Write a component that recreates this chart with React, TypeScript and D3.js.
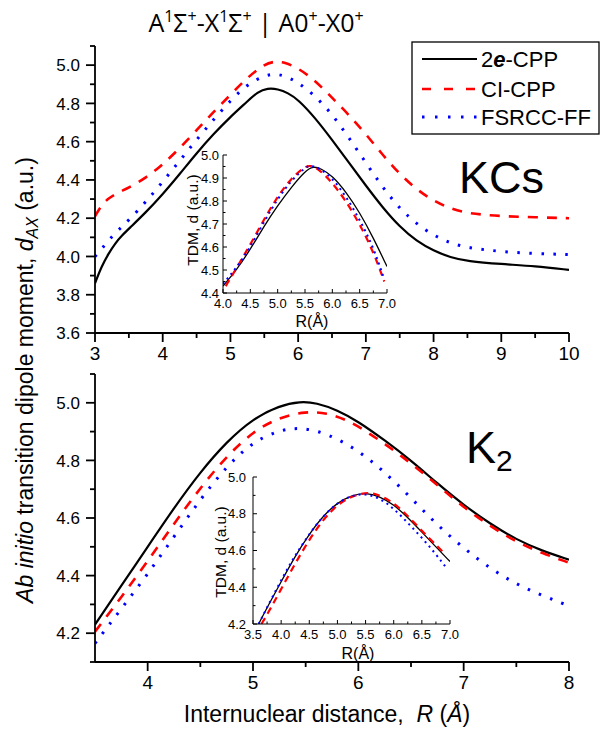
import React from 'react';
import * as d3 from 'd3';

// ---------- DATA ----------
const legendLabels = ['2e-CPP', 'CI-CPP', 'FSRCC-FF'];

// KCs main panel
const kcsBlackR = [3.0, 3.1, 3.2, 3.3, 3.4, 3.5, 3.75, 4.0, 4.25, 4.5, 4.75, 5.0, 5.25, 5.4, 5.55, 5.7, 5.85, 6.0, 6.25, 6.5, 6.75, 7.0, 7.25, 7.5, 7.75, 8.0, 8.25, 8.5, 9.0, 9.5, 10.0];
const kcsBlackD = [3.86, 3.95, 4.015, 4.07, 4.11, 4.145, 4.23, 4.325, 4.43, 4.54, 4.64, 4.73, 4.81, 4.86, 4.88, 4.875, 4.855, 4.82, 4.725, 4.61, 4.49, 4.37, 4.255, 4.155, 4.08, 4.03, 3.995, 3.975, 3.96, 3.95, 3.93];
const kcsRedR = [3.0, 3.1, 3.2, 3.35, 3.5, 3.75, 4.0, 4.25, 4.5, 4.75, 5.0, 5.25, 5.5, 5.65, 5.8, 6.0, 6.25, 6.5, 6.75, 7.0, 7.25, 7.5, 7.75, 8.0, 8.25, 8.5, 9.0, 9.5, 10.0];
const kcsRedD = [4.21, 4.27, 4.305, 4.335, 4.36, 4.41, 4.48, 4.565, 4.66, 4.755, 4.845, 4.935, 5.005, 5.02, 5.015, 4.985, 4.92, 4.83, 4.74, 4.64, 4.53, 4.43, 4.35, 4.29, 4.25, 4.225, 4.21, 4.205, 4.2];
const kcsBlueR = [3.0, 3.1, 3.2, 3.35, 3.5, 3.75, 4.0, 4.25, 4.5, 4.75, 5.0, 5.25, 5.5, 5.65, 5.8, 6.0, 6.25, 6.5, 6.75, 7.0, 7.25, 7.5, 7.75, 8.0, 8.25, 8.5, 9.0, 9.5, 10.0];
const kcsBlueD = [4.0, 4.04, 4.085, 4.14, 4.19, 4.285, 4.39, 4.5, 4.61, 4.715, 4.815, 4.9, 4.945, 4.955, 4.945, 4.91, 4.84, 4.745, 4.62, 4.49, 4.36, 4.25, 4.17, 4.11, 4.07, 4.045, 4.025, 4.015, 4.01];

// KCs inset
const kcsInBlackR = [4.0, 4.25, 4.5, 4.75, 5.0, 5.25, 5.5, 5.65, 5.8, 6.0, 6.25, 6.5, 6.75, 7.0];
const kcsInBlackD = [4.43, 4.5, 4.59, 4.69, 4.78, 4.86, 4.93, 4.952, 4.94, 4.91, 4.84, 4.75, 4.64, 4.515];
const kcsInRedR = [4.05, 4.25, 4.5, 4.75, 5.0, 5.25, 5.5, 5.6, 5.75, 6.0, 6.25, 6.5, 6.75, 6.95];
const kcsInRedD = [4.43, 4.51, 4.61, 4.72, 4.82, 4.9, 4.95, 4.955, 4.94, 4.88, 4.8, 4.7, 4.58, 4.45];
const kcsInBlueR = [4.0, 4.25, 4.5, 4.75, 5.0, 5.25, 5.5, 5.6, 5.75, 6.0, 6.25, 6.5, 6.75, 6.95];
const kcsInBlueD = [4.44, 4.51, 4.6, 4.71, 4.81, 4.89, 4.945, 4.955, 4.945, 4.9, 4.82, 4.72, 4.6, 4.46];

// K2 main panel
const k2BlackR = [3.5, 3.75, 4.0, 4.25, 4.5, 4.75, 5.0, 5.25, 5.45, 5.6, 5.8, 6.0, 6.25, 6.5, 6.75, 7.0, 7.25, 7.5, 7.75, 8.0];
const k2BlackD = [4.23, 4.365, 4.5, 4.635, 4.76, 4.865, 4.945, 4.99, 5.005, 5.0, 4.975, 4.935, 4.87, 4.8, 4.72, 4.645, 4.58, 4.525, 4.485, 4.455];
const k2RedR = [3.5, 3.75, 4.0, 4.25, 4.5, 4.75, 5.0, 5.25, 5.5, 5.7, 5.9, 6.1, 6.3, 6.5, 6.75, 7.0, 7.25, 7.5, 7.75, 8.0];
const k2RedD = [4.205, 4.325, 4.45, 4.58, 4.705, 4.815, 4.9, 4.95, 4.97, 4.965, 4.94, 4.895, 4.845, 4.79, 4.715, 4.637, 4.572, 4.517, 4.477, 4.445];
const k2BlueR = [3.5, 3.75, 4.0, 4.25, 4.5, 4.75, 5.0, 5.25, 5.45, 5.7, 6.0, 6.25, 6.5, 6.75, 7.0, 7.25, 7.5, 7.75, 8.0];
const k2BlueD = [4.165, 4.285, 4.405, 4.535, 4.665, 4.78, 4.865, 4.905, 4.915, 4.895, 4.835, 4.76, 4.67, 4.575, 4.495, 4.425, 4.37, 4.33, 4.295];

// K2 inset
const k2InBlackR = [3.6, 3.75, 4.0, 4.25, 4.5, 4.75, 5.0, 5.25, 5.5, 5.75, 6.0, 6.25, 6.5, 6.75, 7.0];
const k2InBlackD = [4.2, 4.29, 4.43, 4.57, 4.69, 4.79, 4.86, 4.9, 4.915, 4.895, 4.85, 4.78, 4.7, 4.62, 4.54];
const k2InRedR = [3.65, 3.75, 4.0, 4.25, 4.5, 4.75, 5.0, 5.25, 5.5, 5.65, 5.9, 6.15, 6.4, 6.65, 6.9];
const k2InRedD = [4.2, 4.25, 4.39, 4.53, 4.66, 4.77, 4.85, 4.895, 4.915, 4.912, 4.88, 4.82, 4.74, 4.66, 4.585];
const k2InBlueR = [3.6, 3.75, 4.0, 4.25, 4.5, 4.75, 5.0, 5.25, 5.5, 5.75, 6.0, 6.25, 6.5, 6.75, 6.95];
const k2InBlueD = [4.2, 4.29, 4.44, 4.575, 4.69, 4.79, 4.86, 4.9, 4.91, 4.885, 4.83, 4.75, 4.67, 4.58, 4.5];

// ticks
const kcsXTicks = [3, 4, 5, 6, 7, 8, 9, 10];
const kcsYTicks = [3.6, 3.8, 4.0, 4.2, 4.4, 4.6, 4.8, 5.0];
const k2XTicks = [4, 5, 6, 7, 8];
const k2YTicks = [4.2, 4.4, 4.6, 4.8, 5.0];
const kcsInXTicks = [4.0, 4.5, 5.0, 5.5, 6.0, 6.5, 7.0];
const kcsInYTicks = [4.4, 4.5, 4.6, 4.7, 4.8, 4.9, 5.0];
const k2InXTicks = [3.5, 4.0, 4.5, 5.0, 5.5, 6.0, 6.5, 7.0];
const k2InYTicks = [4.2, 4.4, 4.6, 4.8, 5.0];

// ---------- LAYOUT ----------
const W = 611;
const H = 733;
const FONT = 'Liberation Sans, Arial, sans-serif';

const zip = (r: number[], d: number[]) => r.map((x, i) => [x, d[i]] as [number, number]);

const mainStyles = [
  { stroke: '#000000', width: 2.2, dash: undefined as string | undefined },
  { stroke: '#ff0000', width: 2.6, dash: '10,9' },
  { stroke: '#0000ff', width: 3, dash: '2.5,9.5' },
];
const insetStyles = [
  { stroke: '#000000', width: 1.3, dash: undefined as string | undefined },
  { stroke: '#ff0000', width: 2.2, dash: '7,5' },
  { stroke: '#0000ff', width: 2, dash: '2,4' },
];

function range(a: number, b: number, step: number) {
  const out: number[] = [];
  for (let v = a; v <= b + 1e-9; v += step) out.push(Math.round(v * 1000) / 1000);
  return out;
}

type Scale = d3.ScaleLinear<number, number>;

function Curves({ xs, ys, data, styles, id }: { xs: Scale; ys: Scale; data: [number, number][][]; styles: typeof mainStyles; id: string }) {
  const line = d3
    .line<[number, number]>()
    .x((d) => xs(d[0]))
    .y((d) => ys(d[1]))
    .curve(d3.curveBasis);
  const [x0, x1] = xs.range();
  const [y0, y1] = ys.range();
  return (
    <g>
      <clipPath id={id}>
        <rect x={x0} y={Math.min(y0, y1)} width={x1 - x0} height={Math.abs(y0 - y1)} />
      </clipPath>
      <g clipPath={`url(#${id})`}>
        {data.map((d, i) => (
          <path
            key={i}
            d={line(d) || ''}
            fill="none"
            stroke={styles[i].stroke}
            strokeWidth={styles[i].width}
            strokeDasharray={styles[i].dash}
          />
        ))}
      </g>
    </g>
  );
}

function Axes({
  xs, ys, xMajor, xMinor, yMajor, yMinor, xFmt, yFmt, xFont, yFont, dir, majLen, minLen, sw, xLabOff, yLabGap,
}: {
  xs: Scale; ys: Scale; xMajor: number[]; xMinor: number[]; yMajor: number[]; yMinor: number[];
  xFmt: (v: number) => string; yFmt: (v: number) => string; xFont: number; yFont: number;
  dir: number; majLen: number; minLen: number; sw: number; xLabOff: number; yLabGap: number;
}) {
  const [x0, x1] = xs.range();
  const [yb, yt] = ys.range();
  return (
    <g>
      <line x1={x0} x2={x1} y1={yb} y2={yb} stroke="#000" strokeWidth={sw} />
      <line x1={x0} x2={x0} y1={yb} y2={yt} stroke="#000" strokeWidth={sw} />
      {xMinor.map((v) => (
        <line key={'xm' + v} x1={xs(v)} x2={xs(v)} y1={yb} y2={yb + dir * minLen} stroke="#000" strokeWidth={sw} />
      ))}
      {xMajor.map((v) => (
        <g key={'xM' + v}>
          <line x1={xs(v)} x2={xs(v)} y1={yb} y2={yb + dir * majLen} stroke="#000" strokeWidth={sw} />
          <text x={xs(v)} y={yb + xLabOff} textAnchor="middle" fontFamily={FONT} fontSize={xFont} fill="#000">
            {xFmt(v)}
          </text>
        </g>
      ))}
      {yMinor.map((v) => (
        <line key={'ym' + v} x1={x0} x2={x0 - dir * minLen} y1={ys(v)} y2={ys(v)} stroke="#000" strokeWidth={sw} />
      ))}
      {yMajor.map((v) => (
        <g key={'yM' + v}>
          <line x1={x0} x2={x0 - dir * majLen} y1={ys(v)} y2={ys(v)} stroke="#000" strokeWidth={sw} />
          <text x={x0 - yLabGap} y={ys(v)} dy="0.36em" textAnchor="end" fontFamily={FONT} fontSize={yFont} fill="#000">
            {yFmt(v)}
          </text>
        </g>
      ))}
    </g>
  );
}

export default function App() {
  const f1 = d3.format('.1f');
  const f0 = d3.format('d');

  // KCs main
  const xT = d3.scaleLinear().domain([3, 10]).range([95, 569]);
  const yT = d3.scaleLinear().domain([3.6, 5.1]).range([333, 46]);
  // K2 main
  const xB = d3.scaleLinear().domain([3.5, 8]).range([95, 569]);
  const yB = d3.scaleLinear().domain([4.1, 5.1]).range([662, 374]);
  // KCs inset
  const xTi = d3.scaleLinear().domain([4, 7]).range([223, 387]);
  const yTi = d3.scaleLinear().domain([4.4, 5.0]).range([293, 155]);
  // K2 inset
  const xBi = d3.scaleLinear().domain([3.5, 7]).range([253, 450]);
  const yBi = d3.scaleLinear().domain([4.2, 5.0]).range([624, 477]);

  const legendY = [59, 89, 117];

  return (
    <svg width={W} height={H} style={{ position: 'absolute', left: 0, top: 0, background: '#fff' }}>
      <rect x={0} y={0} width={W} height={H} fill="#fff" />

      {/* Title */}
      <text x={256} y={32} textAnchor="middle" fontFamily="Open Sans, sans-serif" fontSize={25} fill="#000">
        A<tspan dy={-10} fontSize={16}>1</tspan>
        <tspan dy={10}>Σ</tspan>
        <tspan dy={-10} fontSize={16}>+</tspan>
        <tspan dy={10}>-X</tspan>
        <tspan dy={-10} fontSize={16}>1</tspan>
        <tspan dy={10}>Σ</tspan>
        <tspan dy={-10} fontSize={16}>+</tspan>
        <tspan dy={10}> | A0</tspan>
        <tspan dy={-10} fontSize={16}>+</tspan>
        <tspan dy={10}>-X0</tspan>
        <tspan dy={-10} fontSize={16}>+</tspan>
      </text>

      {/* KCs panel */}
      <Curves
        id="clipT"
        xs={xT}
        ys={yT}
        data={[zip(kcsBlackR, kcsBlackD), zip(kcsRedR, kcsRedD), zip(kcsBlueR, kcsBlueD)]}
        styles={mainStyles}
      />
      <Axes
        xs={xT} ys={yT}
        xMajor={kcsXTicks} xMinor={range(3.5, 9.5, 1)}
        yMajor={kcsYTicks} yMinor={range(3.7, 5.1, 0.2)}
        xFmt={f0} yFmt={f1} xFont={19} yFont={17}
        dir={1} majLen={9} minLen={5} sw={1.8} xLabOff={27} yLabGap={15}
      />

      {/* KCs inset */}
      <Curves
        id="clipTi"
        xs={xTi}
        ys={yTi}
        data={[zip(kcsInBlackR, kcsInBlackD), zip(kcsInRedR, kcsInRedD), zip(kcsInBlueR, kcsInBlueD)]}
        styles={insetStyles}
      />
      <Axes
        xs={xTi} ys={yTi}
        xMajor={kcsInXTicks} xMinor={range(4.25, 6.75, 0.5)}
        yMajor={kcsInYTicks} yMinor={range(4.45, 4.95, 0.1)}
        xFmt={f1} yFmt={f1} xFont={13} yFont={13}
        dir={-1} majLen={4} minLen={2.5} sw={1} xLabOff={15} yLabGap={4}
      />
      <text transform="translate(198,220) rotate(-90)" textAnchor="middle" fontFamily={FONT} fontSize={15.5} fill="#000">
        TDM, d (a.u.)
      </text>
      <text x={312} y={327} textAnchor="middle" fontFamily={FONT} fontSize={16} fill="#000">
        R(Å)
      </text>

      {/* KCs label */}
      <text x={459} y={193} fontFamily={FONT} fontSize={45} fill="#000">KCs</text>

      {/* Legend */}
      <rect x={412} y={42} width={187} height={92} fill="none" stroke="#000" strokeWidth={1.3} />
      {legendLabels.map((lab, i) => (
        <g key={lab}>
          <line
            x1={422} x2={477} y1={legendY[i]} y2={legendY[i]}
            stroke={mainStyles[i].stroke}
            strokeWidth={i === 0 ? 2 : mainStyles[i].width}
            strokeDasharray={i === 1 ? '9,13' : i === 2 ? '2.5,10.5' : undefined}
          />
          <text x={481} y={legendY[i] + 8} fontFamily={FONT} fontSize={22} fill="#000">
            {i === 0 ? (
              <>
                2<tspan fontWeight="bold" fontStyle="italic">e</tspan>-CPP
              </>
            ) : (
              lab
            )}
          </text>
        </g>
      ))}

      {/* K2 panel */}
      <Curves
        id="clipB"
        xs={xB}
        ys={yB}
        data={[zip(k2BlackR, k2BlackD), zip(k2RedR, k2RedD), zip(k2BlueR, k2BlueD)]}
        styles={mainStyles}
      />
      <Axes
        xs={xB} ys={yB}
        xMajor={k2XTicks} xMinor={range(4.5, 7.5, 1)}
        yMajor={k2YTicks} yMinor={range(4.1, 5.1, 0.2)}
        xFmt={f0} yFmt={f1} xFont={19} yFont={17}
        dir={1} majLen={9} minLen={5} sw={1.8} xLabOff={27} yLabGap={15}
      />

      {/* K2 inset */}
      <Curves
        id="clipBi"
        xs={xBi}
        ys={yBi}
        data={[zip(k2InBlackR, k2InBlackD), zip(k2InRedR, k2InRedD), zip(k2InBlueR, k2InBlueD)]}
        styles={insetStyles}
      />
      <Axes
        xs={xBi} ys={yBi}
        xMajor={k2InXTicks} xMinor={range(3.75, 6.75, 0.5)}
        yMajor={k2InYTicks} yMinor={range(4.3, 4.9, 0.2)}
        xFmt={f1} yFmt={f1} xFont={13} yFont={13}
        dir={-1} majLen={4} minLen={2.5} sw={1} xLabOff={15} yLabGap={7}
      />
      <text transform="translate(226,552) rotate(-90)" textAnchor="middle" fontFamily={FONT} fontSize={15.5} fill="#000">
        TDM, d (a.u.)
      </text>
      <text x={358} y={659} textAnchor="middle" fontFamily={FONT} fontSize={16} fill="#000">
        R(Å)
      </text>

      {/* K2 label */}
      <text x={466} y={463} fontFamily={FONT} fontSize={45} fill="#000">
        K<tspan fontSize={30} dy={8}>2</tspan>
      </text>

      {/* Y axis title */}
      <text transform="translate(33,380) rotate(-90)" textAnchor="middle" fontFamily={FONT} fontSize={23} fill="#000">
        <tspan fontStyle="italic">Ab initio</tspan> transition dipole moment,  <tspan fontStyle="italic">d</tspan>
        <tspan fontStyle="italic" fontSize={16} dy={5}>AX</tspan>
        <tspan dy={-5}> (a.u.)</tspan>
      </text>

      {/* X axis title */}
      <text x={327} y={722} textAnchor="middle" fontFamily={FONT} fontSize={23} fill="#000" xmlSpace="preserve">
        Internuclear distance,  <tspan fontStyle="italic">R</tspan> (<tspan fontStyle="italic">Å</tspan>)
      </text>
    </svg>
  );
}
